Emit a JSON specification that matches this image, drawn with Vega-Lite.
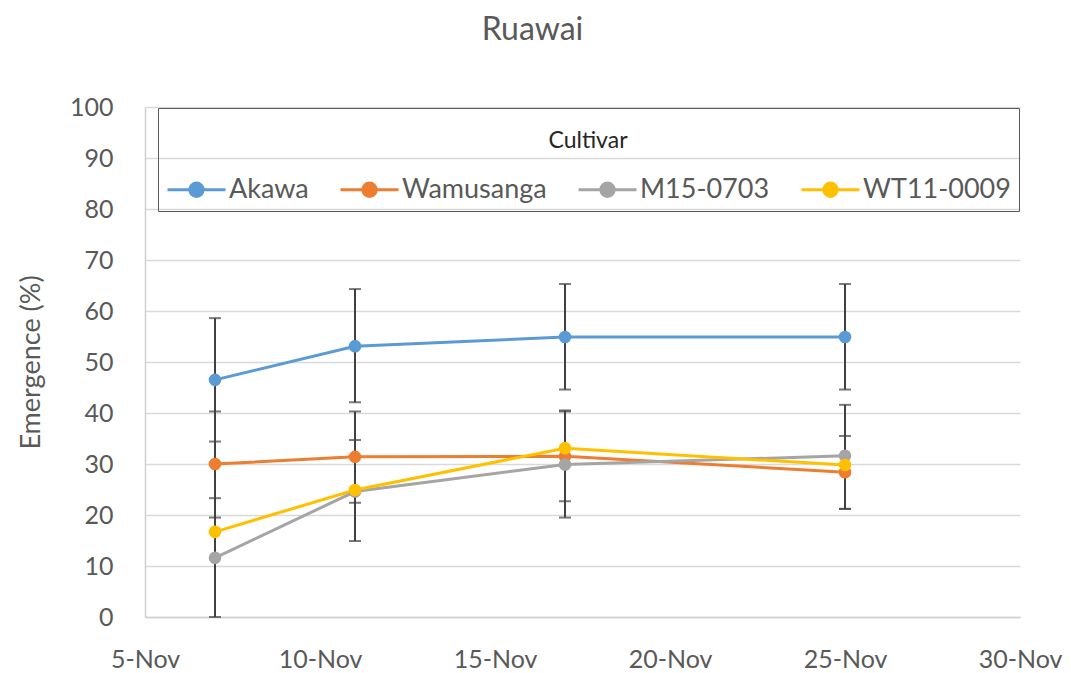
{
  "$schema": "https://vega.github.io/schema/vega-lite/v6.json",
  "width": 875,
  "height": 510,
  "autosize": "none",
  "padding": {"left": 145, "top": 107, "right": 51, "bottom": 56},
  "background": "white",
  "config": {
    "font": "Lato",
    "view": {"stroke": null},
    "axis": {"labelColor": "#595959", "titleColor": "#595959", "labelFont": "Lato", "titleFont": "Lato"}
  },
  "title": {
    "text": "Ruawai",
    "fontSize": 32,
    "fontWeight": "normal",
    "color": "#595959",
    "font": "Lato",
    "anchor": "middle",
    "dx": -50,
    "offset": 48
  },
  "data": {
    "values": [
      {"date": "2019-11-07", "cultivar": "Akawa", "value": 46.5, "lo": 34.4, "hi": 58.6},
      {"date": "2019-11-11", "cultivar": "Akawa", "value": 53.1, "lo": 42.1, "hi": 64.3},
      {"date": "2019-11-17", "cultivar": "Akawa", "value": 54.9, "lo": 44.6, "hi": 65.3},
      {"date": "2019-11-25", "cultivar": "Akawa", "value": 54.9, "lo": 44.6, "hi": 65.3},
      {"date": "2019-11-07", "cultivar": "Wamusanga", "value": 30.0, "lo": 19.5, "hi": 40.3},
      {"date": "2019-11-11", "cultivar": "Wamusanga", "value": 31.4, "lo": 22.4, "hi": 40.3},
      {"date": "2019-11-17", "cultivar": "Wamusanga", "value": 31.5, "lo": 22.7, "hi": 40.3},
      {"date": "2019-11-25", "cultivar": "Wamusanga", "value": 28.4, "lo": 21.2, "hi": 35.5},
      {"date": "2019-11-07", "cultivar": "M15-0703", "value": 11.6, "lo": 0, "hi": 23.3},
      {"date": "2019-11-11", "cultivar": "M15-0703", "value": 24.6, "lo": 14.9, "hi": 34.7},
      {"date": "2019-11-17", "cultivar": "M15-0703", "value": 29.9, "lo": 19.5, "hi": 40.5},
      {"date": "2019-11-25", "cultivar": "M15-0703", "value": 31.6, "lo": 21.2, "hi": 41.6},
      {"date": "2019-11-07", "cultivar": "WT11-0009", "value": 16.7, "lo": null, "hi": null},
      {"date": "2019-11-11", "cultivar": "WT11-0009", "value": 24.9, "lo": null, "hi": null},
      {"date": "2019-11-17", "cultivar": "WT11-0009", "value": 33.1, "lo": null, "hi": null},
      {"date": "2019-11-25", "cultivar": "WT11-0009", "value": 29.8, "lo": null, "hi": null}
    ]
  },
  "encoding": {
    "x": {
      "field": "date",
      "type": "temporal",
      "scale": {"type": "utc", "domain": [{"year": 2019, "month": 11, "date": 5, "utc": true}, {"year": 2019, "month": 11, "date": 30, "utc": true}]},
      "axis": {
        "title": null,
        "labelExpr": "utcFormat(datum.value, '%-d-%b')",
        "values": [
          {"year": 2019, "month": 11, "date": 5, "utc": true},
          {"year": 2019, "month": 11, "date": 10, "utc": true},
          {"year": 2019, "month": 11, "date": 15, "utc": true},
          {"year": 2019, "month": 11, "date": 20, "utc": true},
          {"year": 2019, "month": 11, "date": 25, "utc": true},
          {"year": 2019, "month": 11, "date": 30, "utc": true}
        ],
        "grid": false,
        "ticks": false,
        "domainColor": "#d0d0d0",
        "domainWidth": 1.5,
        "labelFontSize": 25,
        "labelPadding": 30,
        "labelFlush": false
      }
    }
  },
  "layer": [
    {
      "mark": {"type": "rule", "color": "#404040", "strokeWidth": 2},
      "encoding": {
        "y": {"field": "lo", "type": "quantitative"},
        "y2": {"field": "hi"}
      }
    },
    {
      "mark": {"type": "tick", "orient": "horizontal", "color": "#404040", "size": 12, "thickness": 2},
      "encoding": {"y": {"field": "lo", "type": "quantitative"}}
    },
    {
      "mark": {"type": "tick", "orient": "horizontal", "color": "#404040", "size": 12, "thickness": 2},
      "encoding": {"y": {"field": "hi", "type": "quantitative"}}
    },
    {
      "mark": {"type": "line", "strokeWidth": 3},
      "encoding": {
        "y": {
          "field": "value",
          "type": "quantitative",
          "scale": {"domain": [0, 100]},
          "axis": {
            "title": "Emergence (%)",
            "titleFontSize": 27,
            "titleFontWeight": "normal",
            "titlePadding": 24,
            "values": [0, 10, 20, 30, 40, 50, 60, 70, 80, 90, 100],
            "labelFontSize": 25,
            "labelPadding": 32,
            "ticks": false,
            "gridColor": "#d9d9d9",
            "gridWidth": 1.5,
            "domainColor": "#d0d0d0",
            "domainWidth": 1.5
          }
        },
        "color": {
          "field": "cultivar",
          "type": "nominal",
          "scale": {"domain": ["Akawa", "Wamusanga", "M15-0703", "WT11-0009"], "range": ["#5B9BD5", "#ED7D31", "#A5A5A5", "#FFC000"]},
          "legend": {
            "title": ["", "Cultivar"],
            "titleLineHeight": 14,
            "orient": "none",
            "legendX": 13,
            "legendY": 1,
            "direction": "horizontal",
            "columns": 4,
            "titleAnchor": "middle",
            "titleFontSize": 23,
            "titleFontWeight": "normal",
            "titleColor": "#262626",
            "titlePadding": 6,
            "labelFontSize": 27,
            "labelColor": "#595959",
            "columnPadding": 25,
            "padding": 8,
            "strokeColor": "#595959",
            "symbolType": "M-1,0L1,0M-0.23,0A0.23,0.23,0,1,0,0.23,0A0.23,0.23,0,1,0,-0.23,0Z",
            "symbolSize": 3364,
            "symbolStrokeWidth": 3,
            "labelOffset": 2
          }
        }
      }
    },
    {
      "mark": {"type": "point", "filled": true, "size": 160, "opacity": 1},
      "encoding": {
        "y": {"field": "value", "type": "quantitative"},
        "color": {"field": "cultivar", "type": "nominal"}
      }
    }
  ]
}
